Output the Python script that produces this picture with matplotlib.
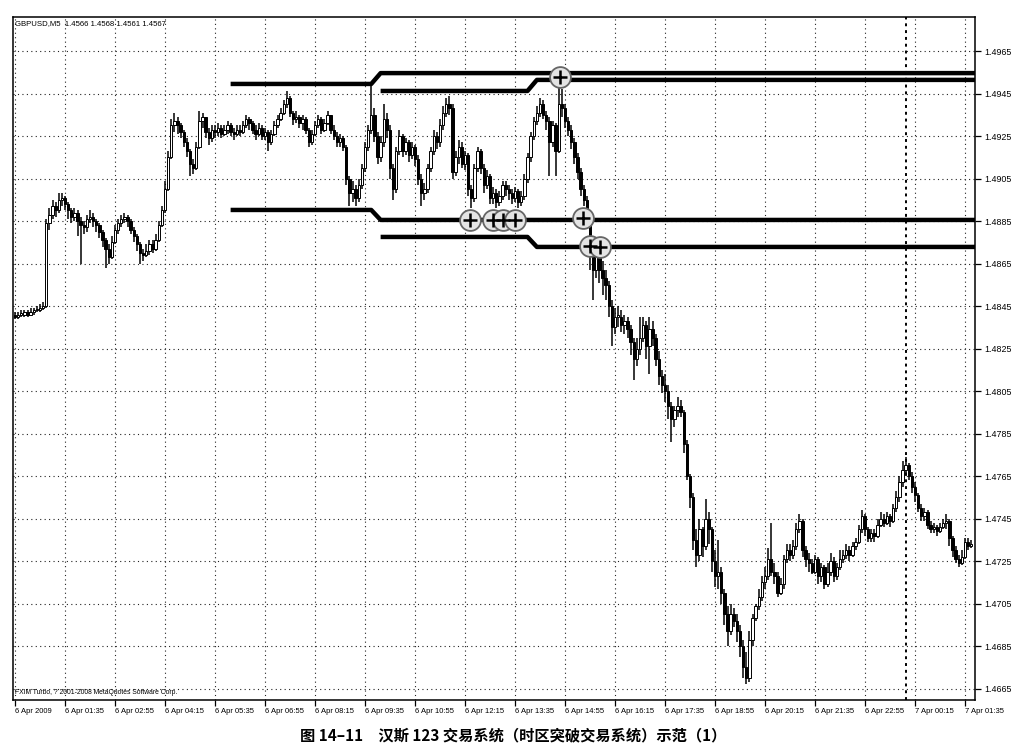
import numpy as np
import matplotlib.pyplot as plt

plt.rcParams['font.family'] = ['Liberation Sans', 'Noto Sans CJK SC', 'DejaVu Sans']

# GBPUSD M5 from 6 Apr 2009 00:15, values in pips above 1.4600
close_pips = [240, 241, 241, 242, 241, 242, 243, 243, 244, 245,
              284, 288, 292, 290, 295, 296, 293, 290, 287, 289,
              285, 283, 282, 286, 287, 285, 283, 280, 276, 272,
              268, 275, 281, 284, 286, 287, 285, 281, 278, 274,
              270, 269, 271, 274, 272, 276, 283, 290, 300, 315,
              330, 332, 330, 327, 322, 318, 312, 310, 320, 332,
              334, 327, 324, 328, 327, 329, 326, 328, 330, 327,
              326, 328, 327, 330, 333, 331, 328, 326, 329, 325,
              327, 322, 326, 330, 333, 336, 340, 343, 336, 333,
              334, 331, 333, 328, 322, 326, 330, 333, 328, 331,
              335, 328, 325, 322, 324, 320, 305, 298, 300, 296,
              302, 310, 320, 328, 335, 325, 315, 322, 333, 328,
              310, 300, 318, 325, 318, 322, 316, 320, 314, 305,
              298, 300, 310, 318, 325, 322, 330, 336, 340, 338,
              308, 315, 320, 312, 316, 300, 296, 310, 318, 310,
              302, 306, 296, 298, 294, 297, 302, 300, 298, 296,
              299, 294, 297, 305, 315, 325, 332, 336, 340, 335,
              332, 322, 330, 318, 340, 338, 332, 328, 322, 315,
              308, 300, 295, 288, 270, 262, 268, 262, 258, 255,
              245, 235, 240, 240, 236, 238, 234, 228, 220, 225,
              230, 236, 226, 234, 230, 220, 212, 208, 205, 198,
              192, 196, 198, 195, 180, 165, 155, 135, 128, 140,
              132, 145, 140, 125, 118, 120, 110, 100, 92, 100,
              97, 92, 85, 75, 70, 88, 98, 104, 108, 115,
              118, 126, 120, 118, 110, 114, 126, 130, 128, 132,
              140, 144, 130, 126, 124, 120, 126, 118, 122, 114,
              120, 125, 118, 122, 126, 128, 130, 128, 132, 134,
              140, 146, 140, 136, 138, 137, 142, 145, 143, 146,
              144, 150, 155, 162, 168, 170, 165, 160, 156, 150,
              146, 148, 142, 140, 141, 139, 141, 143, 144, 136,
              130, 126, 124, 127, 134, 132, 133]
high_pips = [242, 242, 243, 243, 243, 244, 244, 245, 246, 247,
             286, 291, 295, 294, 298, 298, 297, 294, 291, 291,
             290, 287, 285, 288, 290, 289, 286, 284, 281, 277,
             274, 278, 283, 286, 288, 289, 288, 286, 282, 279,
             275, 272, 274, 276, 276, 279, 285, 292, 304, 318,
             333, 336, 334, 331, 328, 324, 319, 314, 322, 337,
             336, 334, 329, 330, 330, 331, 330, 330, 332, 331,
             329, 330, 330, 332, 335, 334, 332, 330, 331, 330,
             329, 328, 328, 332, 335, 338, 342, 346, 344, 337,
             337, 335, 335, 334, 329, 328, 332, 335, 334, 333,
             337, 335, 330, 327, 326, 325, 321, 306, 304, 302,
             305, 312, 322, 330, 350, 338, 327, 325, 340, 336,
             330, 312, 320, 328, 326, 324, 323, 322, 321, 316,
             307, 303, 312, 320, 328, 327, 333, 339, 343, 344,
             340, 318, 323, 322, 318, 317, 302, 312, 320, 319,
             312, 309, 307, 301, 300, 299, 304, 304, 302, 300,
             301, 300, 299, 307, 317, 327, 334, 339, 343, 342,
             337, 334, 332, 331, 356, 347, 340, 334, 330, 324,
             317, 310, 302, 297, 290, 275, 274, 272, 266, 262,
             257, 248, 244, 245, 243, 241, 240, 236, 230, 230,
             240, 240, 238, 240, 238, 232, 224, 215, 213, 208,
             200, 198, 202, 201, 196, 182, 166, 157, 140, 145,
             141, 154, 148, 141, 130, 135, 122, 112, 104, 105,
             103, 100, 95, 88, 82, 92, 100, 105, 112, 118,
             122, 131, 143, 124, 120, 117, 128, 133, 133, 135,
             143, 147, 145, 132, 129, 126, 128, 127, 124, 123,
             124, 129, 127, 124, 130, 130, 133, 132, 134, 136,
             142, 149, 147, 141, 140, 140, 145, 148, 147, 148,
             147, 152, 158, 165, 172, 174, 171, 167, 162, 157,
             152, 150, 149, 144, 143, 142, 143, 145, 147, 145,
             137, 132, 128, 130, 136, 136, 135]
low_pips = [239, 239, 240, 240, 240, 241, 241, 242, 242, 243,
            244, 281, 286, 287, 289, 292, 290, 286, 284, 285,
            278, 265, 279, 280, 284, 282, 280, 277, 273, 263,
            265, 267, 274, 279, 282, 284, 282, 279, 275, 271,
            265, 266, 268, 269, 270, 271, 275, 282, 289, 299,
            314, 327, 326, 324, 320, 315, 306, 307, 309, 319,
            329, 324, 321, 322, 324, 325, 324, 325, 326, 325,
            323, 325, 325, 326, 329, 328, 326, 323, 325, 323,
            323, 318, 321, 325, 329, 332, 335, 338, 334, 330,
            331, 329, 328, 326, 320, 321, 325, 329, 326, 327,
            330, 326, 323, 320, 320, 318, 302, 292, 294, 292,
            294, 300, 308, 318, 326, 322, 312, 313, 320, 324,
            305, 295, 298, 316, 315, 316, 313, 314, 311, 302,
            292, 295, 298, 308, 316, 319, 320, 328, 334, 335,
            305, 306, 312, 310, 309, 297, 291, 294, 308, 307,
            298, 300, 293, 293, 291, 292, 295, 297, 295, 293,
            294, 291, 292, 295, 303, 313, 323, 330, 334, 333,
            328, 306, 320, 306, 317, 334, 329, 325, 319, 312,
            305, 297, 292, 285, 262, 248, 258, 256, 250, 248,
            240, 226, 232, 235, 233, 232, 230, 222, 210, 217,
            222, 228, 220, 213, 226, 217, 208, 204, 200, 192,
            181, 188, 193, 193, 176, 163, 150, 130, 122, 125,
            127, 130, 133, 120, 113, 112, 105, 95, 85, 90,
            94, 87, 80, 70, 67, 68, 85, 97, 102, 106,
            112, 116, 118, 114, 108, 109, 112, 124, 125, 126,
            130, 138, 127, 122, 120, 119, 119, 114, 115, 112,
            113, 118, 115, 116, 121, 124, 126, 125, 127, 130,
            133, 138, 137, 134, 134, 134, 136, 141, 141, 142,
            141, 143, 148, 153, 160, 165, 163, 157, 153, 148,
            144, 144, 140, 138, 138, 137, 138, 140, 140, 132,
            127, 124, 122, 123, 126, 130, 131]
first_open = 241

# thick box lines of the 123 system (bar index, pips)
box_a_x, box_a_y = [69, 114, 117, 308], [349.5, 349.5, 354.6, 354.6]
box_b_x, box_b_y = [117, 164, 167, 308], [346.2, 346.2, 351.4, 351.4]
box_c_x, box_c_y = [69, 114, 117, 308], [290.2, 290.2, 285.5, 285.5]
box_d_x, box_d_y = [117, 164, 167, 308], [277.5, 277.5, 272.8, 272.8]

# circled signal marks
signal_bar = [145.6, 153, 156, 160, 181.8, 184, 187.2, 174.4]
signal_pips = [285.5, 285.5, 285.5, 285.5, 286.4, 273.2, 272.8, 352.6]

time_labels = ['6 Apr 2009', '6 Apr 01:35', '6 Apr 02:55', '6 Apr 04:15', '6 Apr 05:35',
               '6 Apr 06:55', '6 Apr 08:15', '6 Apr 09:35', '6 Apr 10:55', '6 Apr 12:15',
               '6 Apr 13:35', '6 Apr 14:55', '6 Apr 16:15', '6 Apr 17:35', '6 Apr 18:55',
               '6 Apr 20:15', '6 Apr 21:35', '6 Apr 22:55', '7 Apr 00:15', '7 Apr 01:35']
price_levels = [65, 85, 105, 125, 145, 165, 185, 205, 225, 245, 265, 285, 305, 325, 345, 365]
day_break_bar = 285

c = np.array(close_pips, dtype=float)
h = np.array(high_pips, dtype=float)
l = np.array(low_pips, dtype=float)
o = np.r_[first_open, c[:-1]]
idx = np.arange(len(c))

fig = plt.figure(figsize=(10.16, 7.53), dpi=100)
ax = fig.add_axes([13/1016, 1 - 700/753, 962/1016, 683/753])

ax.set_xlim(-0.64, 307.2)
ax.set_ylim(59.6, 381.0)

# grid
tick_pos = np.arange(0, 16*len(time_labels), 16)
for t in tick_pos:
    ax.axvline(t, color='#222222', lw=0.8, ls=(0, (1, 3)), zorder=0)
for p in price_levels:
    ax.axhline(p, color='#222222', lw=0.8, ls=(0, (1, 3)), zorder=0)
ax.axvline(day_break_bar, color='black', lw=1.4, ls=(0, (1.5, 2)), zorder=0)

# candles
ax.vlines(idx, l, h, color='black', lw=1.1, zorder=2)
up = c >= o
body_bot = np.minimum(o, c)
body_h = np.maximum(np.abs(c - o), 0.6)
ax.bar(idx[up], body_h[up], bottom=body_bot[up], width=0.75,
       facecolor='white', edgecolor='black', lw=0.7, zorder=3)
ax.bar(idx[~up], body_h[~up], bottom=body_bot[~up], width=0.75,
       facecolor='black', edgecolor='black', lw=0.7, zorder=3)

# box lines
for bx, by in [(box_a_x, box_a_y), (box_b_x, box_b_y), (box_c_x, box_c_y), (box_d_x, box_d_y)]:
    ax.plot(bx, by, color='black', lw=3.2, solid_capstyle='butt', zorder=4)

# signal circles
ax.plot(signal_bar, signal_pips, ls='none', marker='o', ms=15, mfc='#e4e4e4',
        mec='#666666', mew=1.3, zorder=5)
ax.plot(signal_bar, signal_pips, ls='none', marker='+', ms=10, mec='black',
        mew=1.8, zorder=6)

# axes styling
for side in ['top', 'left', 'right', 'bottom']:
    ax.spines[side].set_linewidth(1.1)
ax.xaxis.set_ticks_position('bottom')
ax.yaxis.set_ticks_position('right')
ax.set_xticks(tick_pos)
ax.set_xticklabels(time_labels, ha='left', fontsize=5.5)
ax.set_yticks(price_levels)
ax.set_yticklabels([f'{1.46 + p/1e4:.4f}' for p in price_levels], fontsize=6.4)
ax.tick_params(axis='x', direction='out', length=4, width=0.9, pad=2)
ax.tick_params(axis='y', direction='out', length=4, width=0.9, pad=3)

ax.text(0.002, 0.995, 'GBPUSD,M5  1.4566 1.4568 1.4561 1.4567', transform=ax.transAxes,
        fontsize=5.6, va='top', ha='left')
ax.text(0.002, 0.006, 'FXIM Turbo, ? 2001-2008 MetaQuotes Software Corp.', transform=ax.transAxes,
        fontsize=4.9, va='bottom', ha='left')

fig.text(0.505, 1 - 735/753, '图 14–11　汉斯 123 交易系统（时区突破交易系统）示范（1）',
         ha='center', va='center', fontsize=11, fontweight='bold',
         family=['Noto Sans CJK SC', 'DejaVu Sans'])

fig.savefig('out.png', dpi=100)
